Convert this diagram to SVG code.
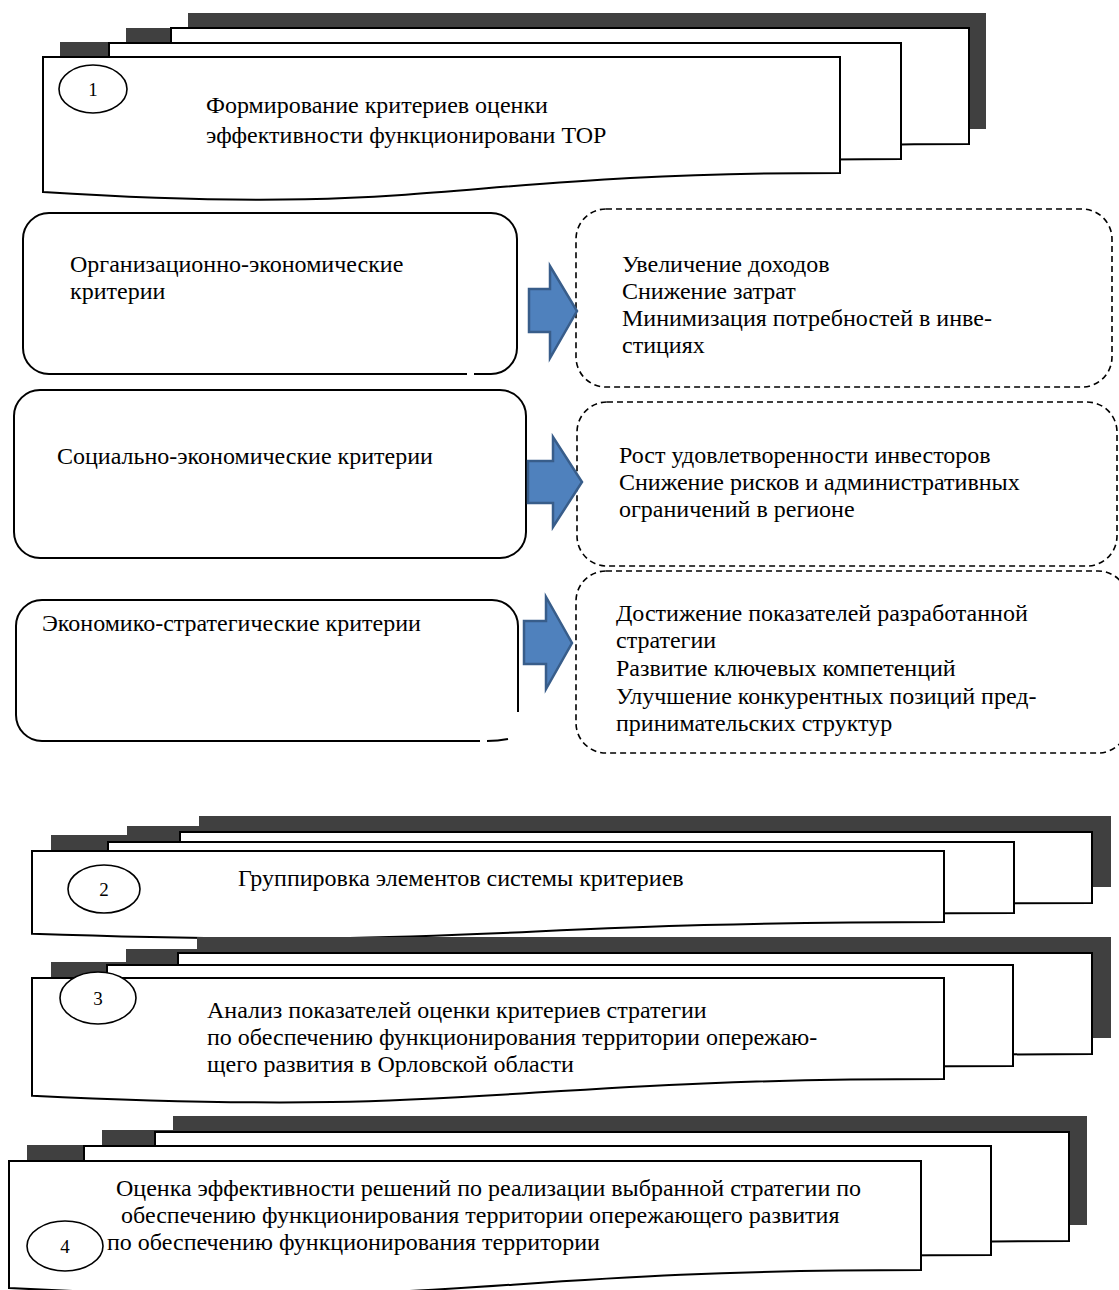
<svg xmlns="http://www.w3.org/2000/svg" xmlns:xlink="http://www.w3.org/1999/xlink" width="1119" height="1290" viewBox="0 0 1119 1290">
<style>
.t{font-family:"Liberation Serif","Times New Roman",serif;font-size:24px;fill:#000}
.n{font-family:"Liberation Serif","Times New Roman",serif;font-size:19px;fill:#000;text-anchor:middle}
.sh{fill:#404040;stroke:none}
.sheet{fill:#fff;stroke:#000;stroke-width:2;stroke-linejoin:miter}
.circ{fill:#fff;stroke:#000;stroke-width:1.6}
.rr{fill:#fff;stroke:#000;stroke-width:2}
.dash{fill:#fff;stroke:#000;stroke-width:1.6;stroke-dasharray:6 4}
.arr{fill:#4F81BD;stroke:#385D8A;stroke-width:2.5;stroke-linejoin:miter}
</style>
<defs>
<path id="a3" d="M171,28 H969 V144 C570,144 570,188.2 171,163 Z"/>
<path id="a2" d="M109,43 H901 V159 C505,159 505,203.2 109,178 Z"/>
<path id="a1" d="M43,57 H840 V173 C441.5,173 441.5,217.2 43,192 Z"/>
<path id="b3" d="M180,832 H1092 V903 C636,903 636,930.1 180,914.7 Z"/>
<path id="b2" d="M108,842 H1014 V913 C561,913 561,940.1 108,924.7 Z"/>
<path id="b1" d="M32,851 H944 V922 C488,922 488,949.1 32,933.7 Z"/>
<path id="c3" d="M178,953 H1092 V1054 C635,1054 635,1092.6 178,1070.7 Z"/>
<path id="c2" d="M107,965 H1013 V1066 C560,1066 560,1104.6 107,1082.7 Z"/>
<path id="c1" d="M32,978 H944 V1079 C488,1079 488,1117.6 32,1095.7 Z"/>
<path id="d3" d="M155,1132 H1069 V1241 C612,1241 612,1282.7 155,1259 Z"/>
<path id="d2" d="M84,1146 H991 V1255 C537.5,1255 537.5,1296.7 84,1273 Z"/>
<path id="d1" d="M9,1161 H921 V1270 C465,1270 465,1311.7 9,1288 Z"/>
</defs>
<rect x="0" y="0" width="1119" height="1290" fill="#fff"/>

<g id="step1">
<use xlink:href="#a3" class="sh" transform="translate(17,-15)"/>
<use xlink:href="#a2" class="sh" transform="translate(17,-15)"/>
<use xlink:href="#a1" class="sh" transform="translate(17,-15)"/>
<use xlink:href="#a3" class="sheet"/>
<use xlink:href="#a2" class="sheet"/>
<use xlink:href="#a1" class="sheet"/>
<ellipse class="circ" cx="93" cy="89" rx="34" ry="24"/>
<text class="n" x="93" y="96">1</text>
<text class="t" x="206" y="113">Формирование критериев оценки</text>
<text class="t" x="206" y="143">эффективности функционировани ТОР</text>
</g>

<g id="crit-org">
<path class="rr" d="M467,374 H49 A26,26 0 0 1 23,348 V239 A26,26 0 0 1 49,213 H491 A26,26 0 0 1 517,239 V348 A26,26 0 0 1 491,374 H474"/>
<text class="t" x="70" y="272">Организационно-экономические</text>
<text class="t" x="70" y="299">критерии</text>
</g>
<g id="crit-soc">
<rect class="rr" x="14" y="390" width="512" height="168" rx="26" ry="26"/>
<text class="t" x="57" y="464">Социально-экономические критерии</text>
</g>
<g id="crit-str">
<path class="rr" d="M480,741 H42 A26,26 0 0 1 16,715 V626 A26,26 0 0 1 42,600 H492 A26,26 0 0 1 518,626 V712"/>
<path class="rr" d="M487,741 Q498,741 508,739"/>
<text class="t" x="42" y="631">Экономико-стратегические критерии</text>
</g>

<g id="res-org">
<rect class="dash" x="576" y="209" width="536" height="178" rx="30" ry="30"/>
<text class="t" x="622" y="272">Увеличение доходов</text>
<text class="t" x="622" y="299">Снижение затрат</text>
<text class="t" x="622" y="326">Минимизация потребностей в инве-</text>
<text class="t" x="622" y="353">стициях</text>
</g>
<g id="res-soc">
<rect class="dash" x="577" y="402" width="540" height="164" rx="30" ry="30"/>
<text class="t" x="619" y="463">Рост удовлетворенности инвесторов</text>
<text class="t" x="619" y="490">Снижение рисков и административных</text>
<text class="t" x="619" y="517">ограничений в регионе</text>
</g>
<g id="res-str">
<rect class="dash" x="576" y="571" width="552" height="182" rx="30" ry="30"/>
<text class="t" x="616" y="621">Достижение показателей разработанной</text>
<text class="t" x="616" y="648">стратегии</text>
<text class="t" x="616" y="676">Развитие ключевых компетенций</text>
<text class="t" x="616" y="704">Улучшение конкурентных позиций пред-</text>
<text class="t" x="616" y="731">принимательских структур</text>
</g>

<g id="connectors">
<polygon class="arr" points="529,289 550,289 550,266 577,311 550,358 550,332 529,332"/>
<polygon class="arr" points="528,461 553,461 553,437 582,482 553,527 553,503 528,503"/>
<polygon class="arr" points="524,621 546,621 546,597 572,643 546,689 546,664 524,664"/>
</g>

<g id="step2">
<use xlink:href="#b3" class="sh" transform="translate(19,-16)"/>
<use xlink:href="#b2" class="sh" transform="translate(19,-16)"/>
<use xlink:href="#b1" class="sh" transform="translate(19,-16)"/>
<use xlink:href="#b3" class="sheet"/>
<use xlink:href="#b2" class="sheet"/>
<use xlink:href="#b1" class="sheet"/>
<ellipse class="circ" cx="104" cy="889" rx="36" ry="24"/>
<text class="n" x="104" y="896">2</text>
<text class="t" x="238" y="886">Группировка элементов системы критериев</text>
</g>

<g id="step3">
<use xlink:href="#c3" class="sh" transform="translate(19,-16)"/>
<use xlink:href="#c2" class="sh" transform="translate(19,-16)"/>
<use xlink:href="#c1" class="sh" transform="translate(19,-16)"/>
<use xlink:href="#c3" class="sheet"/>
<use xlink:href="#c2" class="sheet"/>
<use xlink:href="#c1" class="sheet"/>
<ellipse class="circ" cx="98" cy="998" rx="38" ry="26"/>
<text class="n" x="98" y="1005">3</text>
<text class="t" x="207" y="1018">Анализ показателей оценки критериев стратегии</text>
<text class="t" x="207" y="1045">по обеспечению функционирования территории опережаю-</text>
<text class="t" x="207" y="1072">щего развития в Орловской области</text>
</g>

<g id="step4">
<use xlink:href="#d3" class="sh" transform="translate(18,-16)"/>
<use xlink:href="#d2" class="sh" transform="translate(18,-16)"/>
<use xlink:href="#d1" class="sh" transform="translate(18,-16)"/>
<use xlink:href="#d3" class="sheet"/>
<use xlink:href="#d2" class="sheet"/>
<use xlink:href="#d1" class="sheet"/>
<ellipse class="circ" cx="65" cy="1246" rx="38" ry="25"/>
<text class="n" x="65" y="1253">4</text>
<text class="t" x="116" y="1196">Оценка эффективности решений по реализации выбранной стратегии по</text>
<text class="t" x="121" y="1223">обеспечению функционирования территории опережающего развития</text>
<text class="t" x="107" y="1250">по обеспечению функционирования территории</text>
</g>
</svg>
